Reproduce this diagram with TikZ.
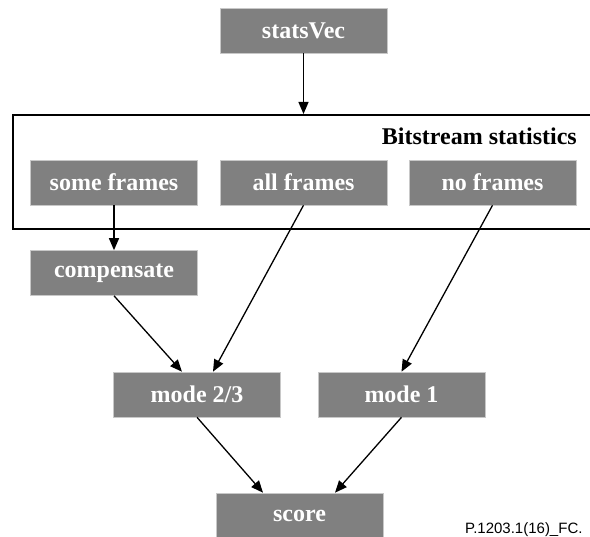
\documentclass[tikz,border=0pt]{standalone}
\usepackage{fontspec}
\setmainfont{Liberation Serif}
\newfontfamily\arialfont{Liberation Sans}
\usetikzlibrary{arrows.meta}
\definecolor{boxgray}{HTML}{808080}
\definecolor{boxedge}{HTML}{C8C8C8}
\tikzset{
  graybox/.style={rectangle, fill=boxgray, draw=boxedge, line width=0.6pt,
    minimum width=167pt, minimum height=45pt, inner sep=0pt,
    text=white, font=\fontsize{24}{28}\selectfont\bfseries},
  conn/.style={line width=1.3pt, -{Triangle[length=12pt,width=10pt]}},
  frame/.style={draw=black, line width=1.6pt}
}
\begin{document}
\begin{tikzpicture}[x=1pt,y=-1pt]
\useasboundingbox (0,0) rectangle (590,537);
\clip (0,0) rectangle (590,537);
% Bitstream statistics frame
\node[frame, rectangle, minimum width=588pt, minimum height=114pt, inner sep=0pt, anchor=north west] (bs) at (12,114) {};
\node[anchor=base east, inner sep=0pt, font=\fontsize{24}{28}\selectfont\bfseries] (bslabel) at (577,145) {Bitstream statistics};
% boxes
\node[graybox] (sv) at (303.5,30.5) {statsVec};
\node[graybox] (some) at (114,182.5) {some frames};
\node[graybox] (allf) at (303.5,182.5) {all frames};
\node[graybox] (nof) at (492.5,182.5) {no frames};
\node[graybox] (comp) at (114,273) {compensate};
\node[graybox] (m23) at (197,394.5) {mode 2/3};
\node[graybox] (m1) at (401.5,394.5) {mode 1};
\node[graybox] (score) at (299.5,515.5) {score};
% connectors
\draw[conn] (sv.south) -- (sv.south |- bs.north);
\draw[conn] (some.south) -- (comp.north);
\draw[conn] (allf.south) -- ([xshift=16pt]m23.north);
\draw[conn] (comp.south) -- ([xshift=-15pt]m23.north);
\draw[conn] (nof.south) -- (m1.north);
\draw[conn] (m23.south) -- ([xshift=-36.5pt]score.north);
\draw[conn] (m1.south) -- ([xshift=35.5pt]score.north);
% footnote
\node[anchor=base west, inner sep=0pt, font=\arialfont\fontsize{15}{18}\selectfont] (fn) at (465,534) {P.1203.1(16)\_FC.};
\end{tikzpicture}
\end{document}
